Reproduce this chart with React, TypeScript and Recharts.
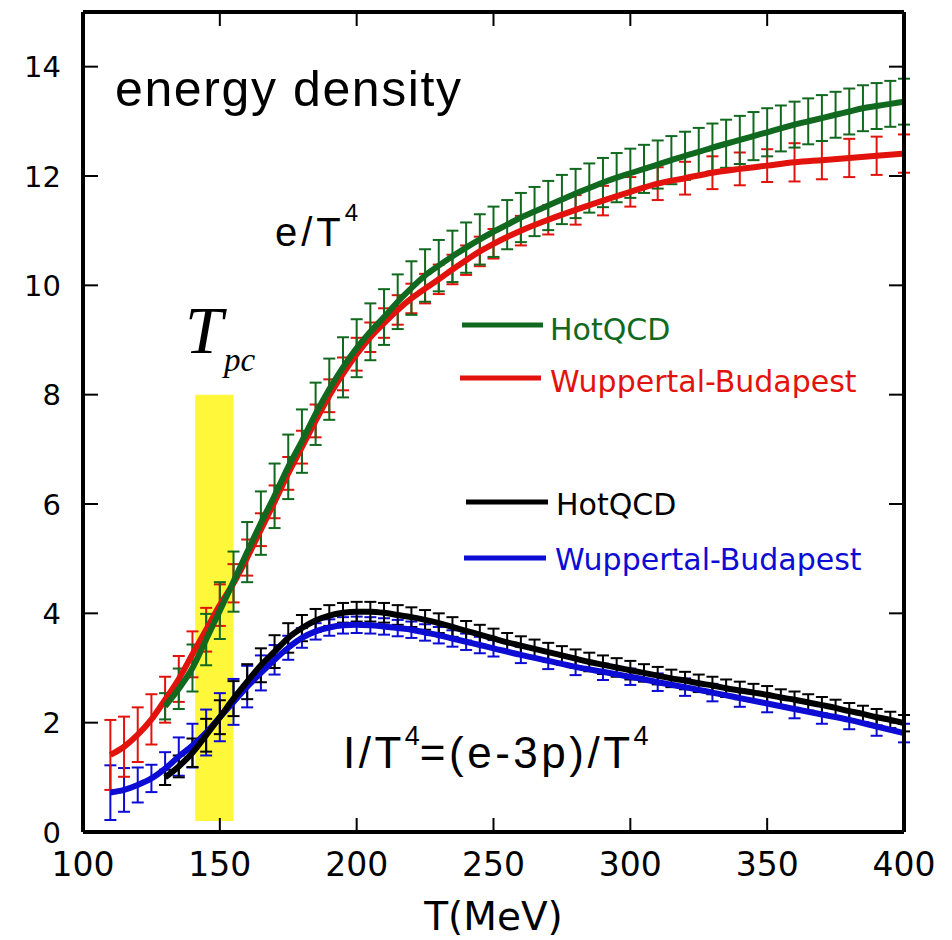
import React from 'react';
import { ComposedChart, Line, Area, XAxis, YAxis, ErrorBar, Customized, Label } from 'recharts';

const GREEN = '#11691f';
const RED = '#e2130c';
const BLUE = '#0c0cd4';
const BLACK = '#000000';
const YELLOW = '#fff83a';

const xTicks = [100, 150, 200, 250, 300, 350, 400];
const yTicks = [0, 2, 4, 6, 8, 10, 12, 14];

// HotQCD temperatures (MeV)
const hotT = [130, 135, 140, 145, 150, 155, 160, 165, 170, 175, 180, 185, 190, 195, 200, 205, 210, 215, 220, 225, 230, 235, 240, 245, 250, 255, 260, 265, 270, 275, 280, 285, 290, 295, 300, 305, 310, 315, 320, 325, 330, 335, 340, 345, 350, 355, 360, 365, 370, 375, 380, 385, 390, 395, 400];
// HotQCD e/T^4
const hotE = [2.30, 2.62, 3.00, 3.52, 4.05, 4.58, 5.12, 5.65, 6.15, 6.68, 7.15, 7.65, 8.10, 8.50, 8.85, 9.15, 9.42, 9.70, 9.95, 10.18, 10.36, 10.53, 10.69, 10.84, 10.98, 11.11, 11.24, 11.35, 11.46, 11.57, 11.68, 11.78, 11.88, 11.97, 12.05, 12.13, 12.21, 12.29, 12.37, 12.44, 12.52, 12.59, 12.66, 12.73, 12.80, 12.87, 12.94, 13.00, 13.06, 13.12, 13.18, 13.24, 13.28, 13.32, 13.36];
const hotEErr = [0.24, 0.37, 0.43, 0.47, 0.52, 0.55, 0.55, 0.58, 0.59, 0.59, 0.58, 0.57, 0.56, 0.55, 0.53, 0.52, 0.51, 0.50, 0.49, 0.48, 0.47, 0.47, 0.46, 0.46, 0.46, 0.45, 0.45, 0.45, 0.45, 0.45, 0.45, 0.45, 0.45, 0.45, 0.45, 0.44, 0.44, 0.44, 0.44, 0.44, 0.44, 0.44, 0.44, 0.44, 0.44, 0.42, 0.42, 0.42, 0.42, 0.42, 0.42, 0.42, 0.42, 0.42, 0.42];
// HotQCD (e-3p)/T^4
const hotI = [1.00, 1.20, 1.45, 1.77, 2.10, 2.44, 2.75, 3.05, 3.30, 3.55, 3.73, 3.87, 3.96, 4.01, 4.03, 4.03, 4.01, 3.97, 3.93, 3.88, 3.82, 3.75, 3.68, 3.61, 3.54, 3.47, 3.41, 3.35, 3.29, 3.23, 3.17, 3.11, 3.06, 3.01, 2.96, 2.91, 2.86, 2.81, 2.77, 2.72, 2.68, 2.63, 2.59, 2.55, 2.51, 2.46, 2.42, 2.37, 2.32, 2.27, 2.21, 2.16, 2.10, 2.05, 1.99];
const hotIErr = [0.14, 0.20, 0.26, 0.30, 0.31, 0.32, 0.32, 0.31, 0.30, 0.27, 0.24, 0.21, 0.19, 0.18, 0.18, 0.18, 0.18, 0.18, 0.18, 0.18, 0.18, 0.18, 0.18, 0.18, 0.18, 0.17, 0.17, 0.17, 0.17, 0.17, 0.17, 0.17, 0.17, 0.17, 0.17, 0.16, 0.16, 0.16, 0.16, 0.16, 0.16, 0.16, 0.16, 0.16, 0.16, 0.15, 0.15, 0.15, 0.15, 0.15, 0.15, 0.15, 0.15, 0.15, 0.15];

// Wuppertal-Budapest temperatures (MeV)
const wbT = [110, 115, 120, 125, 130, 135, 140, 145, 150, 155, 160, 165, 170, 175, 180, 185, 190, 195, 200, 205, 210, 215, 220, 225, 230, 235, 240, 245, 250, 260, 270, 280, 290, 300, 310, 320, 330, 340, 350, 360, 370, 380, 390, 400];
// WB e/T^4
const wbE = [1.41, 1.56, 1.78, 2.06, 2.42, 2.80, 3.25, 3.70, 4.15, 4.55, 5.02, 5.53, 6.04, 6.56, 7.04, 7.52, 7.98, 8.38, 8.74, 9.05, 9.31, 9.55, 9.76, 9.94, 10.11, 10.29, 10.46, 10.62, 10.76, 11.00, 11.20, 11.38, 11.55, 11.71, 11.86, 11.96, 12.06, 12.13, 12.19, 12.25, 12.29, 12.33, 12.37, 12.41];
const wbEErr = [0.64, 0.55, 0.50, 0.46, 0.42, 0.42, 0.42, 0.40, 0.38, 0.35, 0.33, 0.30, 0.30, 0.30, 0.30, 0.30, 0.30, 0.30, 0.30, 0.27, 0.27, 0.27, 0.27, 0.27, 0.27, 0.27, 0.27, 0.27, 0.27, 0.27, 0.27, 0.27, 0.27, 0.27, 0.30, 0.30, 0.30, 0.30, 0.30, 0.35, 0.35, 0.35, 0.35, 0.35];
// WB (e-3p)/T^4
const wbI = [0.72, 0.77, 0.86, 0.98, 1.16, 1.38, 1.58, 1.82, 2.10, 2.38, 2.66, 2.91, 3.15, 3.37, 3.55, 3.67, 3.74, 3.78, 3.79, 3.78, 3.76, 3.73, 3.70, 3.65, 3.60, 3.54, 3.48, 3.42, 3.36, 3.24, 3.13, 3.02, 2.93, 2.84, 2.74, 2.65, 2.55, 2.45, 2.35, 2.25, 2.15, 2.05, 1.93, 1.81];
const wbIErr = [0.50, 0.40, 0.32, 0.25, 0.30, 0.35, 0.40, 0.42, 0.44, 0.42, 0.38, 0.32, 0.27, 0.22, 0.18, 0.15, 0.15, 0.15, 0.15, 0.15, 0.15, 0.15, 0.15, 0.15, 0.15, 0.15, 0.15, 0.15, 0.15, 0.15, 0.15, 0.15, 0.15, 0.15, 0.16, 0.16, 0.16, 0.16, 0.16, 0.17, 0.17, 0.17, 0.17, 0.17];

// Tpc band
const bandT = [141, 155];
const bandY = [0.2, 8];

const legendNames = ['HotQCD', 'Wuppertal-Budapest', 'HotQCD', 'Wuppertal-Budapest'];
const legendColors = [GREEN, RED, BLACK, BLUE];

const mk = (ts: number[], vs: number[], es: number[]) => ts.map((T, i) => ({ T, v: vs[i], err: es[i] }));

const series = [
  { key: 'wbI', color: BLUE, data: mk(wbT, wbI, wbIErr) },
  { key: 'hotI', color: BLACK, data: mk(hotT, hotI, hotIErr) },
  { key: 'wbE', color: RED, data: mk(wbT, wbE, wbEErr) },
  { key: 'hotE', color: GREEN, data: mk(hotT, hotE, hotEErr) },
];

const bandData = bandT.map((T) => ({ T, range: bandY }));

const TICK_FONT = 'DejaVu Sans, Verdana, sans-serif';
const SANS = 'Liberation Sans, Arial, Helvetica, sans-serif';

const BottomTick = (props: any) => {
  const { x, y, payload } = props;
  return (
    <g>
      <line x1={x} y1={y} x2={x} y2={y - 14} stroke="#000" strokeWidth={2} />
      <text x={x} y={y + 44} textAnchor="middle" fontFamily={TICK_FONT} fontSize={33} fill="#000">
        {payload.value}
      </text>
    </g>
  );
};

const LeftTick = (props: any) => {
  const { x, y, payload } = props;
  return (
    <g>
      <line x1={x} y1={y} x2={x + 15} y2={y} stroke="#000" strokeWidth={2} />
      <text x={x - 22} y={y + 10.5} textAnchor="end" fontFamily={TICK_FONT} fontSize={29} fill="#000">
        {payload.value}
      </text>
    </g>
  );
};

const TopTick = (props: any) => {
  const { x, y } = props;
  return <line x1={x} y1={y} x2={x} y2={y + 14} stroke="#000" strokeWidth={2} />;
};

const RightTick = (props: any) => {
  const { x, y } = props;
  return <line x1={x} y1={y} x2={x - 15} y2={y} stroke="#000" strokeWidth={2} />;
};

const legendPos = [
  { x1: 462, x2: 543, y: 325, tx: 550, ty: 340 },
  { x1: 460, x2: 541, y: 378, tx: 550, ty: 392 },
  { x1: 466, x2: 548, y: 502, tx: 556, ty: 515 },
  { x1: 464, x2: 546, y: 558, tx: 555, ty: 570 },
];

const Annotations = () => (
  <g>
    <text x={115} y={106} fontFamily={SANS} fontSize={50} letterSpacing={1.6} fill="#000">energy density</text>
    <text x={275} y={246} fontFamily={SANS} fontSize={40} letterSpacing={4} fill="#000">
      <tspan>e/T</tspan>
      <tspan dy={-25} fontSize={24} letterSpacing={0}>4</tspan>
    </text>
    <text x={343} y={768} fontFamily={SANS} fontSize={44} letterSpacing={3.5} fill="#000">
      <tspan>I/T</tspan>
      <tspan dy={-23} fontSize={27} letterSpacing={0}>4</tspan>
      <tspan dy={23}>=(e-3p)/T</tspan>
      <tspan dy={-23} fontSize={27} letterSpacing={0}>4</tspan>
    </text>
    <text x={185} y={353} fontFamily="Liberation Serif, Times New Roman, serif" fontStyle="italic" fontSize={68} fill="#000">T</text>
    <text x={224} y={371} fontFamily="Liberation Serif, Times New Roman, serif" fontStyle="italic" fontSize={33} fill="#000">pc</text>
    {legendNames.map((name, i) => (
      <g key={i}>
        <line x1={legendPos[i].x1} y1={legendPos[i].y} x2={legendPos[i].x2} y2={legendPos[i].y} stroke={legendColors[i]} strokeWidth={5} />
        <text x={legendPos[i].tx} y={legendPos[i].ty} fontFamily={TICK_FONT} fontSize={30} fill={legendColors[i]}>{name}</text>
      </g>
    ))}
  </g>
);

export default function App() {
  return (
    <div style={{ position: 'absolute', left: 0, top: 0, background: '#fff' }}>
      <ComposedChart width={952} height={940} margin={{ top: 0, right: 0, bottom: 0, left: 0 }}>
        <XAxis
          xAxisId={0}
          dataKey="T"
          type="number"
          domain={[100, 400]}
          ticks={xTicks}
          interval={0}
          allowDataOverflow
          height={108}
          tickSize={0}
          tickMargin={0}
          tickLine={false}
          tick={<BottomTick />}
          axisLine={{ stroke: '#000', strokeWidth: 4 }}
        >
          <Label value="T(MeV)" position="insideBottom" offset={10} style={{ fontSize: 39, fontFamily: TICK_FONT, fill: '#000' }} />
        </XAxis>
        <XAxis
          xAxisId="top"
          orientation="top"
          dataKey="T"
          type="number"
          domain={[100, 400]}
          ticks={xTicks}
          interval={0}
          allowDataOverflow
          height={12}
          tickSize={0}
          tickMargin={0}
          tickLine={false}
          tick={<TopTick />}
          axisLine={{ stroke: '#000', strokeWidth: 4 }}
        />
        <YAxis
          yAxisId={0}
          type="number"
          domain={[0, 15]}
          ticks={yTicks}
          interval={0}
          allowDataOverflow
          width={83}
          tickSize={0}
          tickMargin={0}
          tickLine={false}
          tick={<LeftTick />}
          axisLine={{ stroke: '#000', strokeWidth: 4 }}
        />
        <YAxis
          yAxisId="right"
          orientation="right"
          type="number"
          domain={[0, 15]}
          ticks={yTicks}
          interval={0}
          allowDataOverflow
          width={48}
          tickSize={0}
          tickMargin={0}
          tickLine={false}
          tick={<RightTick />}
          axisLine={{ stroke: '#000', strokeWidth: 4 }}
        />
        <Area
          data={bandData}
          dataKey="range"
          type="linear"
          stroke="none"
          fill={YELLOW}
          fillOpacity={1}
          dot={false}
          activeDot={false}
          legendType="none"
          isAnimationActive={false}
        />
        {series.map((s) => (
          <Line
            key={s.key + '-eb'}
            data={s.data}
            dataKey="v"
            stroke="none"
            dot={false}
            activeDot={false}
            legendType="none"
            isAnimationActive={false}
          >
            <ErrorBar dataKey="err" direction="y" width={6} stroke={s.color} strokeWidth={2} isAnimationActive={false} />
          </Line>
        ))}
        {series.map((s) => (
          <Line
            key={s.key}
            data={s.data}
            dataKey="v"
            type="monotone"
            stroke={s.color}
            strokeWidth={6}
            dot={false}
            activeDot={false}
            isAnimationActive={false}
          />
        ))}
        <Customized component={Annotations} />
      </ComposedChart>
    </div>
  );
}
